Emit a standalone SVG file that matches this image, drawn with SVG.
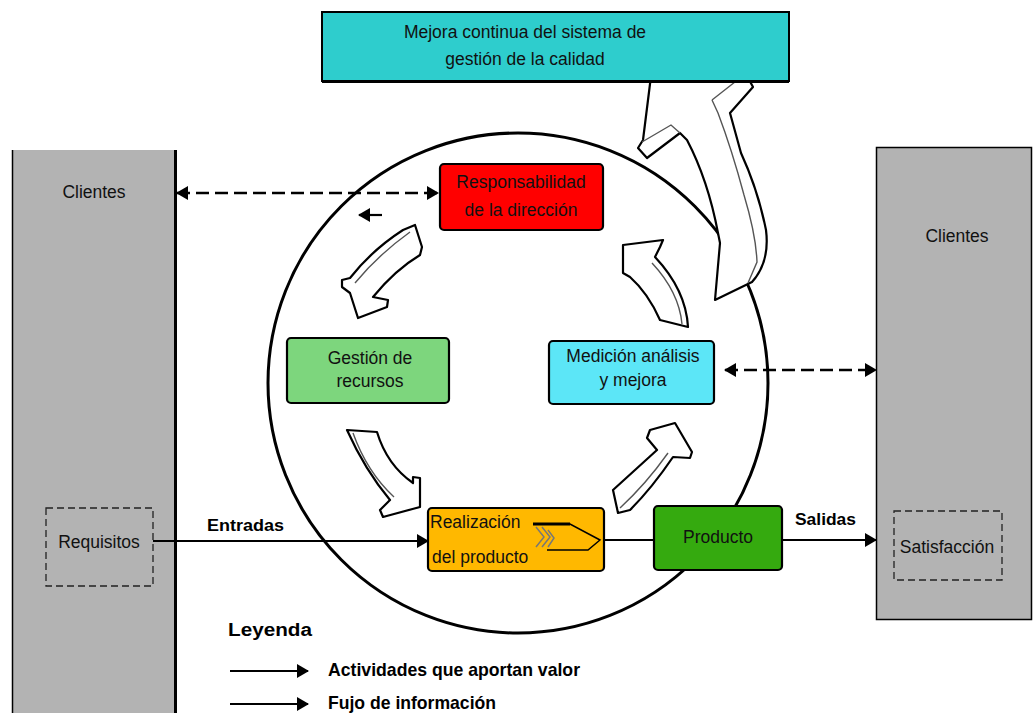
<svg xmlns="http://www.w3.org/2000/svg" width="1033" height="713" viewBox="0 0 1033 713">
  <defs>
    <style>
      .lbl { font-family: "Liberation Sans", Arial, sans-serif; font-size: 17.5px; fill: #111; }
      .bold { font-family: "Liberation Sans", Arial, sans-serif; font-weight: bold; fill: #000; }
      .box { stroke: #000; stroke-width: 2.2; }
      .blk { fill: #fff; stroke: #000; stroke-width: 2.2; stroke-linejoin: round; }
      .face { fill: none; stroke: #555; stroke-width: 1.4; }
      .flow { stroke: #000; stroke-width: 2.2; fill: none; }
      .info { stroke: #000; stroke-width: 2.4; fill: none; stroke-dasharray: 13 6; }
      .dash { fill: none; stroke: #222; stroke-width: 1.3; stroke-dasharray: 7 4; }
    </style>
    <marker id="head" markerUnits="userSpaceOnUse" markerWidth="12" markerHeight="16" refX="11" refY="8" orient="auto-start-reverse">
      <path d="M0,1 L12,8 L0,15 Z" fill="#000"/>
    </marker>
  </defs>

  <rect width="1033" height="713" fill="#fff"/>

  <!-- customer columns -->
  <g id="clientes-entrada">
    <rect x="12" y="150" width="164" height="570" fill="#b3b3b3"/>
    <line x1="12.5" y1="150" x2="12.5" y2="713" stroke="#000" stroke-width="1.5"/>
    <line x1="175.5" y1="150" x2="175.5" y2="713" stroke="#000" stroke-width="3"/>
    <text class="lbl" x="94" y="198" text-anchor="middle">Clientes</text>
  </g>
  <g id="requisitos">
    <rect class="dash" x="46" y="508" width="107" height="78"/>
    <text class="lbl" x="99" y="548" text-anchor="middle">Requisitos</text>
  </g>
  <g id="clientes-salida">
    <rect x="876.5" y="147.5" width="155" height="472" fill="#b3b3b3" stroke="#000" stroke-width="1.5"/>
    <text class="lbl" x="957" y="242" text-anchor="middle">Clientes</text>
  </g>
  <g id="satisfaccion">
    <rect class="dash" x="894" y="511" width="108" height="69"/>
    <text class="lbl" x="947" y="553" text-anchor="middle">Satisfacción</text>
  </g>

  <!-- process cycle -->
  <g id="ciclo">
    <circle cx="518" cy="383" r="250" fill="none" stroke="#000" stroke-width="3"/>
  </g>

  <!-- improvement arrow leaving the cycle -->
  <g id="flecha-mejora">
    <path class="blk" d="M651,76 L643,140 L638,148 L647,158 L680,133 L687,140 Q708,180 718,233 L720,243 L715,300 L752,282 Q770,262 766,230 Q758,190 741,153 L730,113 L753,87 L747,76 Z"/>
    <path class="face" d="M712,100 L740,78 M712,100 L718,113 Q732,150 744,195 Q756,235 757,262 L748,283 M642,142 L671,125 L680,133"/>
  </g>

  <g id="mejora-continua">
    <rect x="322" y="12" width="467" height="69" fill="#2ecdcd" stroke="#000" stroke-width="2"/>
    <line x1="322" y1="81.5" x2="789" y2="81.5" stroke="#000" stroke-width="3"/>
    <text class="lbl" x="525" y="38" text-anchor="middle">Mejora continua del sistema de</text>
    <text class="lbl" x="525" y="65" text-anchor="middle">gestión de la calidad</text>
  </g>

  <!-- cycle arrows -->
  <g id="flechas-ciclo">
    <path class="blk" d="M403,230 L415,225 L422,247 L420,255 Q395,270 373,297 L388,300 L387,307 L358,318 L350,293 L342,287 L342,280 L350,278 Q372,250 403,230 Z"/>
    <path class="face" d="M410,232 Q378,255 355,283"/>
    <path class="blk" d="M347,430 L377,432 Q387,465 413,483 L413,477 L420,478 L420,507 L383,517 L380,510 L390,500 Q365,470 347,430 Z"/>
    <path class="face" d="M353,433 Q367,472 394,497"/>
    <path class="blk" d="M613,490 L618,513 L630,510 Q652,488 673,457 L690,458 L692,452 L675,423 L650,430 L647,438 L657,450 Q635,470 613,490 Z"/>
    <path class="face" d="M620,508 Q646,484 668,453"/>
    <path class="blk" d="M660,320 L688,327 Q686,290 655,257 L660,247 L663,240 L623,245 L623,273 L630,277 Q648,293 660,320 Z"/>
    <path class="face" d="M682,324 Q679,292 652,263"/>
  </g>

  <!-- connectors -->
  <g id="conectores">
    <line class="info" x1="177" y1="193" x2="438" y2="193" marker-start="url(#head)" marker-end="url(#head)"/>
    <line class="flow" x1="382" y1="215" x2="359" y2="215" marker-end="url(#head)"/>
    <line class="info" x1="725" y1="370" x2="876" y2="370" marker-start="url(#head)" marker-end="url(#head)"/>
    <line class="flow" x1="153" y1="541" x2="428" y2="541" marker-end="url(#head)"/>
    <line class="flow" x1="600" y1="540" x2="654" y2="540"/>
    <line class="flow" x1="782" y1="540" x2="876" y2="540" marker-end="url(#head)"/>
    <text class="bold" x="207" y="531" font-size="17" textLength="77" lengthAdjust="spacingAndGlyphs">Entradas</text>
    <text class="bold" x="795" y="525" font-size="17" textLength="61" lengthAdjust="spacingAndGlyphs">Salidas</text>
  </g>

  <!-- process nodes -->
  <g id="responsabilidad">
    <rect class="box" x="440" y="164" width="163" height="66" rx="4" fill="#ff0000"/>
    <text class="lbl" x="521" y="188" text-anchor="middle">Responsabilidad</text>
    <text class="lbl" x="521" y="216" text-anchor="middle">de la dirección</text>
  </g>
  <g id="gestion-recursos">
    <rect class="box" x="287" y="338" width="162" height="65" rx="4" fill="#7dd67d"/>
    <text class="lbl" x="370" y="364" text-anchor="middle">Gestión de</text>
    <text class="lbl" x="370" y="387" text-anchor="middle">recursos</text>
  </g>
  <g id="medicion">
    <rect class="box" x="549" y="341" width="165" height="63" rx="4" fill="#5ce6f7"/>
    <text class="lbl" x="633" y="362" text-anchor="middle">Medición análisis</text>
    <text class="lbl" x="633" y="386" text-anchor="middle">y mejora</text>
  </g>
  <g id="realizacion">
    <rect class="box" x="428" y="508" width="176" height="63" rx="4" fill="#ffb800"/>
    <text class="lbl" x="430" y="528">Realización</text>
    <text class="lbl" x="432" y="563">del producto</text>
    <path d="M533,524 L570,524 L600,540 L588,550 L547,550" fill="none" stroke="#000" stroke-width="1.5"/>
    <line x1="533" y1="524" x2="570" y2="524" stroke="#000" stroke-width="3"/>
    <path d="M536,527 L544,537 L536,547 M542,527 L550,537 L542,547 M548,530 L554,538 L548,547" fill="none" stroke="#777" stroke-width="1.5"/>
  </g>
  <g id="producto">
    <rect class="box" x="654" y="506" width="128" height="64" rx="4" fill="#35aa0f"/>
    <text class="lbl" x="718" y="543" text-anchor="middle">Producto</text>
  </g>

  <!-- legend -->
  <g id="leyenda">
    <text class="bold" x="228" y="636" font-size="18" textLength="84" lengthAdjust="spacingAndGlyphs">Leyenda</text>
    <line class="flow" x1="230" y1="671" x2="308" y2="671" marker-end="url(#head)"/>
    <text class="bold" x="328" y="676" font-size="19" textLength="252" lengthAdjust="spacingAndGlyphs">Actividades que aportan valor</text>
    <line class="flow" x1="230" y1="704" x2="308" y2="704" marker-end="url(#head)"/>
    <text class="bold" x="328" y="709" font-size="19" textLength="168" lengthAdjust="spacingAndGlyphs">Fujo de información</text>
  </g>
</svg>
